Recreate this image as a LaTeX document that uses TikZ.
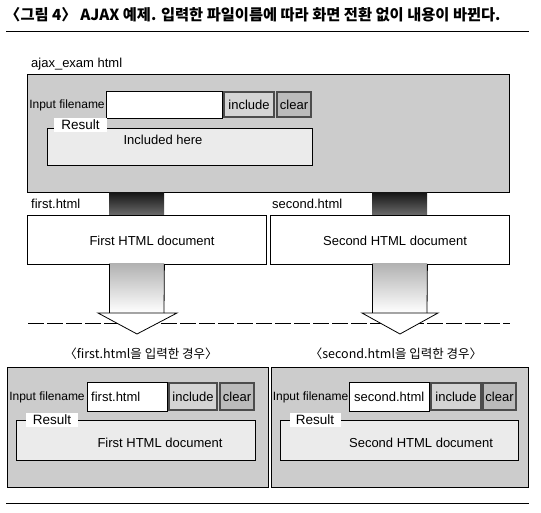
\documentclass[tikz,border=0pt]{standalone}
\usepackage{fontspec}
\setmainfont{Liberation Sans}
\newfontfamily\krfont{Noto Sans CJK KR}
\usepackage{xcolor}
\usetikzlibrary{positioning,calc}
\definecolor{boxgray}{HTML}{CCCCCC}
\definecolor{resgray}{HTML}{EBEBEB}
\definecolor{btngray}{HTML}{D4D4D4}
\definecolor{btndark}{HTML}{BBBBBB}

\begin{document}
\begin{tikzpicture}[
    x=1pt, y=-1pt,
    box/.style = {draw, line width=0.8pt, anchor=north west, inner sep=0pt, outer sep=0pt},
    panel/.style = {box, fill=boxgray},
    field/.style = {box, fill=white},
    incbtn/.style = {box, draw=black!70, line width=1.1pt, fill=btngray, font=\fontsize{13}{15}\selectfont},
    clrbtn/.style = {box, draw=black!70, line width=1.1pt, fill=btndark, font=\fontsize{13}{15}\selectfont},
    resbox/.style = {box, fill=resgray},
    reslabel/.style = {fill=white, inner sep=0pt, minimum height=14, font=\fontsize{13.5}{15}\selectfont},
    pipe/.style = {anchor=north west, inner sep=0pt, top color=black!92, bottom color=black!58},
    txt/.style = {inner sep=0pt, font=\fontsize{13}{15}\selectfont},
    krtxt/.style = {inner sep=0pt, font=\krfont\fontsize{12.5}{15}\selectfont},
    arrowline/.style = {line width=0.8pt, line join=miter}
]
    \useasboundingbox (0,0) rectangle (541,513);

    % title and rules
    \node[inner sep=0pt, anchor=west, font=\krfont\bfseries\fontsize{15.3}{18}\selectfont] (title) at (5,15)
        {〈그림 4〉 AJAX 예제. 입력한 파일이름에 따라 화면 전환 없이 내용이 바뀐다.};
    \coordinate (rule1a) at (6,31);
    \coordinate (rule1b) at (529,31);
    \coordinate (rule2a) at (6,503);
    \coordinate (rule2b) at (529,503);
    \draw[line width=0.9pt] (rule1a) -- (rule1b);
    \draw[line width=0.9pt] (rule2a) -- (rule2b);

    % ajax_exam page
    \node[txt, anchor=west] (pagename) at (31,64) {ajax\_exam html};
    \node[panel, minimum width=482, minimum height=118] (main) at (27,74) {};
    \node[txt, font=\fontsize{12}{14}\selectfont] (inlabel) at (67,105) {Input filename};
    \node[field, minimum width=116, minimum height=27] (infield) at (106,91) {};
    \node[incbtn, minimum width=50, minimum height=25] (incl) at (224,92) {include};
    \node[clrbtn, minimum width=34, minimum height=25] (clr) at (277,92) {clear};
    \node[resbox, minimum width=265, minimum height=37] (res) at (47,128) {};
    \node[reslabel, minimum width=53] (reslbl) at (80.5,125) {Result};
    \node[txt] (restxt) at (163,140) {Included here};

    % included documents
    \node[pipe, minimum width=55, minimum height=23] (pipe1) at (109,192) {};
    \node[pipe, minimum width=55, minimum height=23] (pipe2) at (372,192) {};
    \node[txt, anchor=west] (name1) at (31,204) {first.html};
    \node[txt, anchor=west] (name2) at (272,204) {second.html};
    \node[field, minimum width=239, minimum height=49] (doc1) at (27,215) {};
    \node[field, minimum width=239, minimum height=49] (doc2) at (270,215) {};
    \node[txt] (doc1txt) at (152,241) {First HTML document};
    \node[txt] (doc2txt) at (395,241) {Second HTML document};

    % dashed separator
    \coordinate (sepa) at (28,323);
    \coordinate (sepb) at (510,323);
    \draw[line width=0.8pt, dash pattern=on 16pt off 3pt] (sepa) -- (sepb);

    % block arrows
    \shade[top color=black!30, bottom color=white] (doc1.south -| pipe1.west) rectangle (164,313);
    \shade[top color=black!30, bottom color=white] (doc2.south -| pipe2.west) rectangle (427,313);
    \draw[arrowline, fill=white] (109,313) -- (98,313) -- (137,334) -- (177,313) -- (164,313) -- cycle;
    \draw[arrowline, fill=white] (372,313) -- (362,313) -- (400,334) -- (438,313) -- (427,313) -- cycle;
    \draw[arrowline] (doc1.south -| pipe1.west) -- (109,313);
    \draw[arrowline] (doc1.south -| pipe1.east) -- (164,313);
    \draw[arrowline] (doc2.south -| pipe2.west) -- (372,313);
    \draw[arrowline] (doc2.south -| pipe2.east) -- (427,313);

    % case captions
    \node[krtxt] (cap1) at (141,354) {〈first.html을 입력한 경우〉};
    \node[krtxt] (cap2) at (396,354) {〈second.html을 입력한 경우〉};

    % result with first.html
    \node[panel, minimum width=261, minimum height=120] (main1) at (7,367) {};
    \node[txt, font=\fontsize{12}{14}\selectfont] (inlabel1) at (47,397) {Input filename};
    \node[field, minimum width=80, minimum height=29] (infield1) at (87,382) {};
    \node[txt, anchor=west] (intext1) at (91,397) {first.html};
    \node[incbtn, minimum width=48, minimum height=27] (incl1) at (169,383) {include};
    \node[clrbtn, minimum width=34, minimum height=27] (clr1) at (220,383) {clear};
    \node[resbox, minimum width=239, minimum height=40] (res1) at (16,420) {};
    \node[reslabel, minimum width=52] (reslbl1) at (52,420) {Result};
    \node[txt] (restxt1) at (160,443) {First HTML document};

    % result with second.html
    \node[panel, minimum width=257, minimum height=120] (main2) at (271,367) {};
    \node[txt, font=\fontsize{12}{14}\selectfont] (inlabel2) at (310.5,397) {Input filename};
    \node[field, minimum width=80, minimum height=29] (infield2) at (349,382) {};
    \node[txt, anchor=west] (intext2) at (354,397) {second.html};
    \node[incbtn, minimum width=50, minimum height=27] (incl2) at (431,383) {include};
    \node[clrbtn, minimum width=33, minimum height=27] (clr2) at (483,383) {clear};
    \node[resbox, minimum width=238, minimum height=40] (res2) at (280,420) {};
    \node[reslabel, minimum width=51] (reslbl2) at (315,420) {Result};
    \node[txt] (restxt2) at (421,443) {Second HTML document};
\end{tikzpicture}
\end{document}
